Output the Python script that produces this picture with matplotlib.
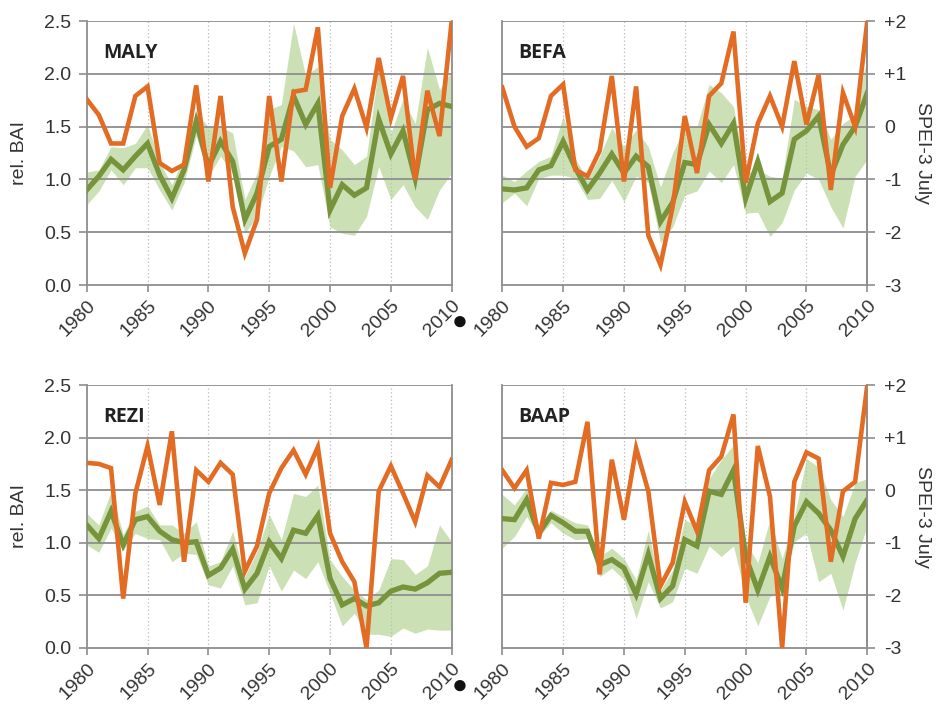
import numpy as np
import matplotlib.pyplot as plt
from matplotlib.ticker import FixedLocator

plt.rcParams['font.family'] = ['Liberation Sans', 'DejaVu Sans']
plt.rcParams['axes.unicode_minus'] = False

years = np.arange(1980, 2011)
sites = ["MALY", "BEFA", "REZI", "BAAP"]

# mean relative BAI (green line)
bai_mean = {
    "MALY": [0.90, 1.03, 1.19, 1.09, 1.22, 1.34, 1.04, 0.82, 1.09, 1.55, 1.12, 1.36, 1.17, 0.62, 0.87,
             1.31, 1.38, 1.79, 1.52, 1.72, 0.71, 0.95, 0.85, 0.92, 1.57, 1.24, 1.46, 1.01, 1.66, 1.72, 1.69],
    "BEFA": [0.91, 0.90, 0.92, 1.09, 1.13, 1.36, 1.11, 0.90, 1.06, 1.24, 1.06, 1.22, 1.12, 0.60, 0.78,
             1.16, 1.14, 1.52, 1.34, 1.53, 0.82, 1.17, 0.79, 0.87, 1.38, 1.46, 1.60, 1.04, 1.33, 1.50, 1.82],
    "REZI": [1.17, 1.04, 1.30, 0.98, 1.22, 1.25, 1.11, 1.03, 1.00, 1.01, 0.69, 0.76, 0.94, 0.56, 0.71,
             1.01, 0.85, 1.12, 1.09, 1.26, 0.66, 0.41, 0.47, 0.40, 0.43, 0.54, 0.58, 0.56, 0.62, 0.71, 0.72],
    "BAAP": [1.23, 1.22, 1.41, 1.09, 1.26, 1.19, 1.11, 1.11, 0.79, 0.84, 0.76, 0.51, 0.89, 0.47, 0.59,
             1.03, 0.97, 1.49, 1.46, 1.69, 0.87, 0.55, 0.87, 0.57, 1.16, 1.39, 1.28, 1.12, 0.87, 1.23, 1.41],
}

# band (spread between trees)
bai_low = {
    "MALY": [0.76, 0.89, 1.09, 0.95, 1.11, 1.11, 0.90, 0.71, 0.97, 1.41, 1.03, 1.22, 1.06, 0.49, 0.65,
             1.03, 1.31, 1.27, 1.12, 1.14, 0.55, 0.49, 0.47, 0.65, 1.12, 0.81, 0.95, 0.74, 0.62, 0.90, 1.06],
    "BEFA": [0.78, 0.87, 0.75, 1.01, 1.04, 1.04, 1.01, 0.81, 0.82, 0.99, 0.79, 1.03, 0.97, 0.40, 0.55,
             0.85, 0.89, 1.08, 0.97, 1.14, 0.68, 0.69, 0.46, 0.59, 0.90, 1.06, 1.00, 0.74, 0.54, 1.03, 1.19],
    "REZI": [0.98, 0.91, 1.14, 0.93, 1.09, 1.04, 1.03, 0.82, 0.90, 0.89, 0.60, 0.57, 0.78, 0.41, 0.43,
             0.78, 0.54, 0.74, 0.66, 0.82, 0.52, 0.21, 0.33, 0.13, 0.13, 0.11, 0.19, 0.14, 0.18, 0.17, 0.17],
    "BAAP": [0.95, 1.06, 1.25, 1.06, 1.19, 1.09, 1.03, 1.04, 0.68, 0.76, 0.65, 0.28, 0.63, 0.38, 0.44,
             0.76, 0.71, 0.97, 0.87, 0.97, 0.49, 0.21, 0.49, 0.52, 1.01, 1.09, 0.63, 0.71, 0.36, 0.81, 1.16],
}
bai_high = {
    "MALY": [1.07, 1.09, 1.31, 1.30, 1.34, 1.52, 1.16, 0.95, 1.22, 1.63, 1.50, 1.50, 1.44, 0.81, 1.06,
             1.66, 1.71, 2.48, 1.98, 2.07, 1.38, 1.28, 1.14, 1.22, 2.07, 1.44, 1.76, 1.53, 2.25, 1.85, 2.03],
    "BEFA": [1.04, 0.98, 1.08, 1.17, 1.22, 1.60, 1.20, 0.99, 1.22, 1.49, 1.31, 1.47, 1.31, 0.93, 1.25,
             1.50, 1.50, 1.90, 1.82, 1.69, 1.06, 1.09, 1.03, 1.01, 1.76, 1.69, 1.66, 1.38, 1.53, 1.61, 2.17],
    "REZI": [1.28, 1.17, 1.49, 1.08, 1.30, 1.35, 1.17, 1.17, 1.09, 1.20, 0.78, 0.82, 1.11, 0.68, 0.92,
             1.27, 1.03, 1.47, 1.44, 1.55, 0.84, 0.68, 0.55, 0.46, 0.55, 0.85, 0.84, 0.70, 0.78, 1.17, 1.01],
    "BAAP": [1.46, 1.36, 1.52, 1.15, 1.31, 1.25, 1.19, 1.17, 0.87, 0.95, 0.85, 0.65, 1.12, 0.55, 0.74,
             1.22, 1.16, 1.61, 1.79, 1.93, 1.01, 0.81, 1.22, 0.85, 1.25, 1.80, 1.72, 1.41, 1.25, 1.57, 1.61],
}

# SPEI-3 July (orange line, right axis)
spei = {
    "MALY": [0.52, 0.22, -0.32, -0.32, 0.58, 0.76, -0.69, -0.84, -0.72, 0.78, -1.04, 0.58, -1.52, -2.40, -1.76,
             0.58, -1.04, 0.66, 0.70, 1.88, -1.16, 0.20, 0.72, -0.02, 1.30, 0.16, 0.96, -1.00, 0.68, -0.18, 2.00],
    "BEFA": [0.74, 0.00, -0.38, -0.22, 0.58, 0.80, -0.82, -0.94, -0.46, 0.96, -1.04, 0.76, -2.06, -2.62, -1.52,
             0.20, -0.88, 0.58, 0.82, 1.80, -1.06, 0.06, 0.58, 0.00, 1.24, 0.04, 0.98, -1.20, 0.64, 0.00, 2.00],
    "REZI": [0.52, 0.50, 0.42, -2.06, -0.06, 0.84, -0.28, 1.12, -1.36, 0.38, 0.16, 0.52, 0.30, -1.54, -1.06,
             -0.06, 0.42, 0.76, 0.30, 0.82, -0.82, -1.36, -1.74, -3.00, -0.02, 0.46, -0.06, -0.60, 0.28, 0.06, 0.58],
    "BAAP": [0.38, 0.04, 0.38, -0.92, 0.14, 0.10, 0.16, 1.30, -1.60, 0.58, -0.56, 0.80, -0.02, -1.82, -1.38,
             -0.22, -0.78, 0.38, 0.64, 1.44, -2.14, 0.84, -0.12, -3.00, 0.16, 0.72, 0.60, -1.36, -0.02, 0.16, 2.00],
}

bai_ticks = [0.0, 0.5, 1.0, 1.5, 2.0, 2.5]
spei_ticks = [-3, -2, -1, 0, 1, 2]
spei_labels = ["-3", "-2", "-1", "0", "+1", "+2"]
year_ticks = [1980, 1985, 1990, 1995, 2000, 2005, 2010]

ORANGE = "#E36C25"
GREEN = "#77933C"
BAND = "#A9CD85"
GRID = "#8E8E8E"
TXT = "#333333"
FS = 14

fig = plt.figure(figsize=(9.38, 7.06), dpi=100)

W, H = 938, 706
boxes = {  # pixel boxes: left, top, right, bottom
    "MALY": (86.7, 21, 451.7, 285),
    "BEFA": (502.3, 21, 867.3, 285),
    "REZI": (86.7, 385, 451.7, 648),
    "BAAP": (502.3, 385, 867.3, 648),
}

for i, site in enumerate(sites):
    l, t, r, b = boxes[site]
    ax = fig.add_axes([l / W, 1 - b / H, (r - l) / W, (b - t) / H])
    ax.fill_between(years, bai_low[site], bai_high[site], color=BAND, alpha=0.6, lw=0, zorder=1)
    ax.plot(years, bai_mean[site], color=GREEN, lw=3.8, solid_joinstyle="miter", zorder=3)
    ax.set_xlim(1980, 2010)
    ax.set_ylim(0, 2.5)
    ax.yaxis.set_major_locator(FixedLocator(bai_ticks))
    ax.xaxis.set_major_locator(FixedLocator(year_ticks))
    for y in bai_ticks[1:]:
        ax.axhline(y, color=GRID, lw=1.3, zorder=2)
    for x in year_ticks[1:-1]:
        ax.axvline(x, color="#BBBBBB", lw=0.9, ls=(0, (1, 2)), zorder=0.5)
    for s in ax.spines.values():
        s.set_color(GRID)
        s.set_linewidth(1.3)
    ax.spines["top"].set_visible(False)
    ax.tick_params(axis="x", colors=GRID, length=5, width=1.2, labelcolor=TXT, labelsize=FS, pad=4)
    ax.set_xticklabels([str(y) for y in year_ticks], rotation=45, ha="right", rotation_mode="anchor")
    if i % 2 == 0:
        ax.tick_params(axis="y", colors=GRID, length=6, width=1.2, labelcolor=TXT, labelsize=FS, pad=5)
        ax.set_yticklabels([f"{v:.1f}" for v in bai_ticks])
        ax.set_ylabel("rel. BAI", fontsize=FS, color=TXT, labelpad=12)
    else:
        ax.tick_params(axis="y", length=0, labelleft=False)

    ax2 = ax.twinx()
    ax2.plot(years, spei[site], color=ORANGE, lw=3.3, solid_joinstyle="miter", zorder=4)
    ax2.set_ylim(-3, 2)
    ax2.set_xlim(1980, 2010)
    for s in ax2.spines.values():
        s.set_visible(False)
    if i % 2 == 1:
        ax2.spines["right"].set_visible(True)
        ax2.spines["right"].set_color(GRID)
        ax2.spines["right"].set_linewidth(1.3)
        ax2.yaxis.set_major_locator(FixedLocator(spei_ticks))
        ax2.set_yticklabels(spei_labels)
        ax2.tick_params(axis="y", colors=GRID, length=6, width=1.2, labelcolor=TXT, labelsize=FS, pad=6)
        ax2.set_ylabel("SPEI-3 July", fontsize=FS, color=TXT, rotation=270, labelpad=18)
    else:
        ax2.tick_params(axis="y", length=0, labelright=False)

    ax.text(0.045, 0.88, site, transform=ax.transAxes, fontsize=14, fontweight="bold",
            family=["Open Sans", "DejaVu Sans"], color="#222222", va="center", ha="left", zorder=5)

# small black dots between the panels
for yy in (322, 686):
    fig.text(460 / W, 1 - yy / H, "\u25CF", fontsize=19, color="#111111", ha="center", va="center")

fig.savefig("out.png", dpi=100)
